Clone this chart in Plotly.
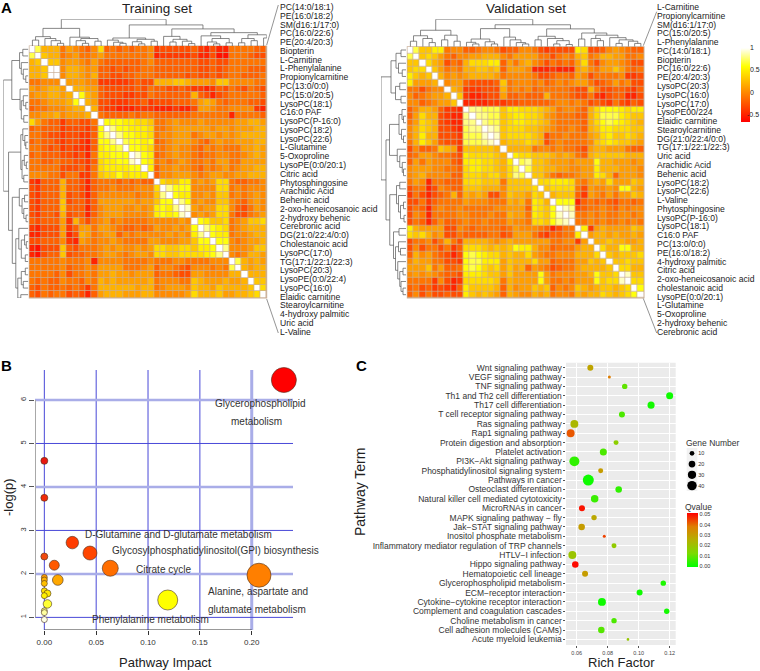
import numpy as np
import plotly.graph_objects as go

W, H = 760, 671
FONT = "Liberation Sans"

# ---------- Panel A data: correlation levels, upper triangle from the diagonal ----------
# A=-0.6 B=-0.5 C=-0.4 D=-0.3 E=-0.2 F=-0.1 0..9=tenths W=1.0
TRAIN_ROWS = [
 "W7222F10FE04EFEFEFF0CDDDDDECBDBBFFFFEE",
 "W322F01FF01FFFFFFF0BCCCCCDBBDAAFFFEDD",
 "W330110F1FEEEEEEF0EEEEEEEDDEDDFFFFFF",
 "WW022101EEDEDEEFFEEEEEEEDDEDEFFFEEE",
 "W022102EEDDEEFFFEEEEEDEDDEDEFFEEEF",
 "W11100CCCCCDEDD222332111033" + "0000FF",
 "W2211EDDDDDEDFEEDDEDCCBCEDFEDFED",
 "W621EDDDCCDDFEEEEEE2EDBDEFFFFFE",
 "W21DDCCCDDECDDDEEEF121FEFFFEED",
 "W2DCCBBBCCCBBBCBBD110FF0000CB",
 "WFEEEEFEFFEEEEEEFFFFFFBFFFFE",
 "W66655443FF0100010000011221",
 "W8665554FF0111111011011122",
 "W866554F00111F01101012222",
 "W76656EF01110FE010011122",
 "W6654FF0100FE0F0FFF1121",
 "W965EF0100FEFF00FF0121",
 "W65F0F010FF0F11FF1111",
 "W5E00100FE0F01F01122",
 "WE001110F0110011222",
 "W43355010144FEEFF0",
 "W8666000044F0F000",
 "W655001033F0F010",
 "W86010033" + "0FE010",
 "W91011440EDF10",
 "W010144FDDF01",
 "W65334F01334",
 "W8654F01222",
 "W655F00122",
 "W660F0112",
 "W8000133",
 "W0F0221",
 "W72121",
 "W2122",
 "W222",
 "W33",
 "W4",
 "W",
]
VALID_ROWS = [
 "W73355F00EEF00FDEE00FDCDDDD54DDE010FEE",
 "W3431FE0011222" + "0F111" + "1FFDF0F23F0221" + "1FF0",
 "W421DFE244455E1F120FDFEFE14FD0110FDDF"[:36],
 "W31F0F223323E1110BBBCBBB120F1131FEF",
 "W2010122221F0000FDDEFFE10DFFFF0CCD",
 "W011EDDDDE3F000F0EF0F011FDEF1F0DD",
 "W21CCCDDD2F0F0EFFFFFEDD2FDDEEDCE",
 "W3CBBCDD1EEFEEE2FFFEDDFCBDEEBBD",
 "WBBBBCCCDDEEEEEF00F0FDEDCFDCED",
 "W88777355444321F00FE246665455"[:29],
 "W8877345544310FFFEE247775433",
 "W87734554432" + "0FFFFE246765432",
 "W9834443" + "3210FF0FE235544433",
 "W93444432DFF0FFF124533432",
 "W2333432DF0FFFF034543321",
 "W2222F00F0FFED122111FEE",
 "W5443332121FE233333222",
 "W78332111011" + "162211101",
 "W73322110" + "01152221110",
 "W331FEFF01154" + "2E1110",
 "W4455540F121411132",
 "W34444FD100106621",
 "W2333EC10F1F1132",
 "W666BEFEFEDFFEF",
 "W98DEFF0FE0F00",
 "W9FF0F0FF00F0",
 "WFF0F0FF0F0F",
 "W5C12111132",
 "W122121121",
 "W22322112",
 "W4226622",
 "W323334",
 "W33433",
 "W4422",
 "W933",
 "W44",
 "W6",
 "W",
]
LEVELS = {"A": -.6, "B": -.5, "C": -.4, "D": -.3, "E": -.2, "F": -.1, "W": 1.0}
SCALE_TICKS = [1, .5, 0, -.5]

TRAIN_LABELS = ["PC(14:0/18:1)", "PE(16:0/18:2)", "SM(d16:1/17:0)", "PC(16:0/22:6)", "PE(20:4/20:3)",
 "Biopterin", "L-Carnitine", "L-Phenylalanine", "Propionylcarnitine", "PC(13:0/0:0)", "PC(15:0/20:5)",
 "LysoPC(18:1)", "C16:0 PAF", "LysoPC(P-16:0)", "LysoPC(18:2)", "LysoPC(22:6)", "L-Glutamine", "5-Oxoproline",
 "LysoPE(0:0/20:1)", "Citric acid", "Phytosphingosine", "Arachidic Acid", "Behenic acid",
 "2-oxo-heneicosanoic acid", "2-hydroxy behenic", "Cerebronic acid", "DG(21:0/22:4/0:0)", "Cholestanoic acid",
 "LysoPC(17:0)", "TG(17:1/22:1/22:3)", "LysoPC(20:3)", "LysoPE(0:0/22:4)", "LysoPC(16:0)", "Elaidic carnitine",
 "Stearoylcarnitine", "4-hydroxy palmitic", "Uric acid", "L-Valine"]
VALID_LABELS = ["L-Carnitine", "Propionylcarnitine", "SM(d16:1/17:0)", "PC(15:0/20:5)", "L-Phenylalanine",
 "PC(14:0/18:1)", "Biopterin", "PC(16:0/22:6)", "PE(20:4/20:3)", "LysoPC(20:3)", "LysoPC(16:0)", "LysoPC(17:0)",
 "LysoPE00/224", "Elaidic carnitine", "Stearoylcarnitine", "DG(21:0/22:4/0:0)", "TG(17:1/22:1/22:3)", "Uric acid",
 "Arachidic Acid", "Behenic acid", "LysoPC(18:2)", "LysoPC(22:6)", "L-Valine", "Phytosphingosine", "LysoPC(P-16:0)",
 "LysoPC(18:1)", "C16:0 PAF", "PC(13:0/0:0)", "PE(16:0/18:2)", "4-hydroxy palmitic", "Citric acid",
 "2-oxo-heneicosanoic acid", "cholestanoic acid", "LysoPE(0:0/20:1)", "L-Glutamine", "5-Oxoproline",
 "2-hydroxy behenic", "Cerebronic acid"]

# dendrogram merges: [height, left, right]; 0 is a leaf
TRAIN_TREE = [1.0,
 [.66,
  [.35, [.22, 0, 0], [.28, 0, [.2, 0, [.1, 0, 0]]]],
  [.33, 0, [.28, [.2, 0, [.1, 0, 0]], [.18, 0, 0]]]],
 [.79,
  [.3, [.22, 0, [.14, 0, [.1, 0, 0]]], [.25, [.16, 0, [.08, 0, 0]], [.18, 0, 0]]],
  [.64,
   [.36, 0, [.25, [.15, 0, 0], [.18, 0, [.09, 0, 0]]]],
   [.5,
    [.38, 0, [.28, [.15, 0, [.08, 0, 0]], [.12, 0, 0]]],
    [.42, [.28, [.12, 0, 0], [.2, 0, 0]], [.3, 0, 0]]]]]]
VALID_TREE = [1.0,
 [.6, [.4, [.2, 0, 0], [.3, 0, [.15, 0, 0]]], [.42, [.25, 0, 0], [.2, 0, 0]]],
 [.8,
  [.66,
   [.28, [.16, 0, [.1, 0, 0]], [.18, 0, [.1, 0, 0]]],
   [.35, 0, [.25, 0, [.15, 0, [.1, 0, 0]]]]],
  [.65,
   [.38, [.25, 0, 0], [.3, 0, [.22, [.1, 0, 0], [.08, 0, 0]]]],
   [.5,
    [.28, 0, 0],
    [.42, [.3, 0, [.22, 0, 0]], [.33, 0, [.25, [.12, 0, 0], [.2, 0, [.12, 0, 0]]]]]]]]]

# ---------- Panel B data ----------
IMPACT = [.231, 0, 0, 0, .027, .044, .0096, .0636, .207, .013, 0, 0, 0, 0, .003, 0, .003, .119, 0, 0, 0]
LOGP = [6.46, 4.6, 3.75, 2.4, 2.72, 2.48, 2.2, 2.13, 1.97, 1.86, 1.92, 1.86, 1.78, 1.61, 1.55, 1.5, 1.31, 1.4, 1.15, 1.11, .95]
NODE_SIZE = [25, 7, 7, 7, 12.5, 14, 10, 16, 24, 10.7, 6, 6, 6, 6, 7, 6, 8.5, 20, 6, 6, 6]
NODE_COLOR = ["#FF0000", "#E8180F", "#F02A0A", "#F04A10", "#FF3C00", "#FF4500", "#FF5A00", "#FF6E00", "#FF7F00",
              "#FFA800", "#FF9F00", "#FFB000", "#FFC000", "#FFE000", "#FFE800", "#FFF000", "#FFFF33", "#FFFF00",
              "#FFFF80", "#FFFFA0", "#FFFFE8"]
B_X_TICKS = [0, .05, .10, .15, .20]
B_Y_TICKS = [1, 2, 3, 4, 5, 6]
B_THICK_H = [2, 4, 6]
B_THICK_V = [.20]
B_NOTES = [("Glycerophospholipid", 260, 403.7), ("metabolism", 256.7, 421),
           ("D-Glutamine and D-glutamate metabolism", 178, 534),
           ("Glycosylphosphatidylinositol(GPI) biosynthesis", 215, 550.7),
           ("Citrate cycle", 163.3, 569), ("Alanine, aspartate and", 257.7, 591.7),
           ("glutamate metabolism", 256.7, 609), ("Phenylalanine metabolism", 150.3, 619.7)]

# ---------- Panel C data ----------
TERMS = ["Wnt signaling pathway", "VEGF signaling pathway", "TNF signaling pathway", "Th1 and Th2 cell differentiation",
 "Th17 cell differentiation", "T cell receptor signaling pathway", "Ras signaling pathway", "Rap1 signaling pathway",
 "Protein digestion and absorption", "Platelet activation", "PI3K\u2212Akt signaling pathway",
 "Phosphatidylinositol signaling system", "Pathways in cancer", "Osteoclast differentiation",
 "Natural killer cell mediated cytotoxicity", "MicroRNAs in cancer", "MAPK signaling pathway \u2212 fly",
 "Jak\u2212STAT signaling pathway", "Inositol phosphate metabolism",
 "Inflammatory mediator regulation of TRP channels", "HTLV\u2212I infection", "Hippo signaling pathway",
 "Hematopoietic cell lineage", "Glycerophospholipid metabolism", "ECM\u2212receptor interaction",
 "Cytokine\u2212cytokine receptor interaction", "Complement and coagulation cascades",
 "Choline metabolism in cancer", "Cell adhesion molecules (CAMs)", "Acute myeloid leukemia"]
RICH = [.0688, .0811, .091, .12, .108, .0892, .0585, .0561, .0854, .0772, .0585, .0755, .0675, .0871, .0716, .0634,
        .0712, .0632, .0778, .0841, .0572, .0591, .0654, .1159, .1006, .0763, .1181, .0841, .0759, .0931]
GENES = [16, 4, 13, 22, 22, 16, 28, 28, 11, 22, 44, 11, 54, 19, 25, 16, 13, 19, 4, 11, 28, 19, 16, 13, 16, 28, 13, 13, 19, 3]
QVALUE = [.028, .038, .009, .0005, .001, .007, .023, .042, .016, .007, .004, .03, .0005, .004, .005, .049, .027, .03,
          .044, .017, .019, .05, .03, .002, .0005, .0005, .001, .007, .008, .018]
GENE_KEYS = [10, 20, 30, 40]


def px_x(a, b):
    return [a / W, b / W]


def px_y(top, bottom):
    return [1 - bottom / H, 1 - top / H]


def decode(rows):
    n = len(rows)
    z = np.zeros((n, n))
    for i, row in enumerate(rows):
        vals = [LEVELS[c] if c in LEVELS else int(c) / 10 for c in row]
        vals = (vals + [0.0] * n)[:n - i]
        z[i, i:] = vals
        z[i:, i] = vals
    return z


def tree_lines(tree):
    """Positions of a dendrogram's links: (leaf coordinate, height) pairs."""
    pos, hgt = [], []
    counter = [0]

    def walk(node):
        if node == 0:
            counter[0] += 1
            return counter[0] - 1, 0.0
        xa, ha = walk(node[1])
        xb, hb = walk(node[2])
        pos.extend([xa, xa, xb, xb, None])
        hgt.extend([ha, node[0], node[0], hb, None])
        return (xa + xb) / 2, node[0]

    walk(tree)
    return pos, hgt


fig = go.Figure()
layout = dict(width=W, height=H, margin=dict(l=0, r=0, t=0, b=0, autoexpand=False), autosize=False, showlegend=False,
              paper_bgcolor="white", plot_bgcolor="rgba(0,0,0,0)", font=dict(family=FONT, color="#222"))
shapes, notes = [], []
axis_n = [0]


def axes(xdom, ydom, xkw=None, ykw=None):
    axis_n[0] += 1
    n = axis_n[0]
    base = dict(showgrid=False, zeroline=False, showline=False, showticklabels=False, ticks="")
    layout[f"xaxis{n}"] = {**base, "domain": xdom, "anchor": f"y{n}", **(xkw or {})}
    layout[f"yaxis{n}"] = {**base, "domain": ydom, "anchor": f"x{n}", **(ykw or {})}
    return f"x{n}", f"y{n}"


def note(text, x, y, size, anchor="center", **kw):
    notes.append(dict(text=text, x=x / W, y=1 - y / H, xref="paper", yref="paper", showarrow=False,
                      xanchor=anchor, yanchor="middle", font=dict(size=size, family=FONT, color=kw.pop("color", "#222")),
                      **kw))


HEAT_SCALE = [[0, "#FF0000"], [.75, "#FFFF00"], [1, "#FFFFFF"]]
ZMIN, ZMAX = -.68, 1.0


def heat_panel(rows, labels, tree, x0, x1, y0, y1, dl0, dl1, dt0, lab_x, fan, colorbar):
    n = len(rows)
    xa, ya = axes(px_x(x0, x1), px_y(y0, y1), dict(range=[-.5, n - .5]), dict(range=[n - .5, -.5]))
    shapes.append(dict(type="rect", xref="paper", yref="paper", x0=(x0 - .5) / W, x1=(x1 + .5) / W, y0=1 - (y1 + .5) / H,
                       y1=1 - (y0 - .5) / H, fillcolor="#C9AE96", line_width=0, layer="below"))
    tr = dict(z=decode(rows), xaxis=xa, yaxis=ya, xgap=.7, ygap=.7, zmin=ZMIN, zmax=ZMAX, colorscale=HEAT_SCALE,
              hoverinfo="skip")
    if colorbar:
        tr.update(showscale=True, colorbar=dict(x=740.7 / W, xanchor="left", xpad=0, ypad=0, y=1 - 85 / H, yanchor="middle",
                                                thickness=9.3, thicknessmode="pixels", len=74, lenmode="pixels",
                                                outlinewidth=0, ticks="", showticklabels=False))
        for v in SCALE_TICKS:
            note(f"{v:g}", 745 if v < 0 else 748, 92 - v * 44.5, 7, anchor="left")
    else:
        tr.update(showscale=False)
    fig.add_trace(go.Heatmap(**tr))
    pos, hgt = tree_lines(tree)
    line = dict(color="#555555", width=.7)
    xt, yt = axes(px_x(x0, x1), px_y(dt0, y0), dict(range=[-.5, n - .5]), dict(range=[0, 1]))
    fig.add_trace(go.Scatter(x=pos, y=hgt, mode="lines", line=line, xaxis=xt, yaxis=yt, hoverinfo="skip"))
    xl, yl = axes(px_x(dl0, dl1), px_y(y0, y1), dict(range=[1, 0]), dict(range=[n - .5, -.5]))
    fig.add_trace(go.Scatter(x=hgt, y=pos, mode="lines", line=line, xaxis=xl, yaxis=yl, hoverinfo="skip"))
    for i, lab in enumerate(labels):
        note(lab, lab_x, 7 + i * 8.776, 8.6, anchor="left")
    for (a, b, c, d) in fan:
        shapes.append(dict(type="line", xref="paper", yref="paper", x0=a / W, y0=1 - b / H, x1=c / W, y1=1 - d / H,
                           line=dict(color="#666666", width=.7)))


heat_panel(TRAIN_ROWS, TRAIN_LABELS, TRAIN_TREE, 29.3, 266.7, 46, 298, 3.3, 28.3, 19.3, 278,
           [(266.7, 45, 278.3, 5), (266.7, 299, 278.3, 333)], False)
heat_panel(VALID_ROWS, VALID_LABELS, VALID_TREE, 407.3, 644, 46.7, 298, 381, 406, 19.3, 655,
           [(643.3, 45.7, 656.7, 11.7), (643.3, 298.5, 656.7, 333)], True)
note("Training set", 157, 8.5, 13.5)
note("Validation set", 526, 8.5, 13.5)
note("<b>A</b>", 7, 8, 15, color="#000")
note("<b>B</b>", 7, 365, 15, color="#000")
note("<b>C</b>", 361, 365, 15, color="#000")

# ---------- Panel B ----------
B_XR = [-.009, .2398]
B_YR = [.71, 6.69]
xb, yb = axes(px_x(35, 293), px_y(370, 630),
              dict(range=B_XR, tickmode="array", tickvals=B_X_TICKS, ticktext=[f"{v:.2f}" for v in B_X_TICKS],
                   showticklabels=True, ticks="outside", ticklen=4, tickcolor="#333", tickwidth=.7,
                   tickfont=dict(size=8, family=FONT, color="#333")),
              dict(range=B_YR, tickmode="array", tickvals=B_Y_TICKS, showticklabels=True, ticks="outside", ticklen=5,
                   tickcolor="#555", tickwidth=.7, tickangle=-90, tickfont=dict(size=7.5, family=FONT, color="#333")))
for v in B_X_TICKS:
    thick = v in B_THICK_V
    fig.add_trace(go.Scatter(x=[v, v], y=B_YR, mode="lines", xaxis=xb, yaxis=yb, hoverinfo="skip",
                             line=dict(color="#A9ADE8" if thick else "#4848D8", width=3 if thick else 1)))
for v in B_Y_TICKS:
    thick = v in B_THICK_H
    fig.add_trace(go.Scatter(x=B_XR, y=[v, v], mode="lines", xaxis=xb, yaxis=yb, hoverinfo="skip",
                             line=dict(color="#A9ADE8" if thick else "#4848D8", width=2.5 if thick else 1)))
fig.add_trace(go.Scatter(x=[B_XR[0], B_XR[0]], y=[B_Y_TICKS[0], B_Y_TICKS[-1]], mode="lines", xaxis=xb, yaxis=yb,
                         hoverinfo="skip", line=dict(color="#A8A8A8", width=2)))
fig.add_trace(go.Scatter(x=[B_X_TICKS[0], B_X_TICKS[-1]], y=[B_YR[0], B_YR[0]], mode="lines", xaxis=xb, yaxis=yb,
                         hoverinfo="skip", line=dict(color="#333333", width=1), cliponaxis=False))
fig.add_trace(go.Scatter(x=IMPACT, y=LOGP, mode="markers", xaxis=xb, yaxis=yb, hoverinfo="skip", cliponaxis=False,
                         marker=dict(size=NODE_SIZE, color=NODE_COLOR, opacity=1, line=dict(color="#4A3020", width=.6))))
for text, x, y in B_NOTES:
    note(text, x, y, 10, color="#333")
note("Pathway Impact", 165, 662, 13)
note("-log(p)", 8, 497, 13, textangle=-90)

# ---------- Panel C ----------
shapes.append(dict(type="rect", xref="paper", yref="paper", x0=566 / W, x1=675.7 / W, y0=1 - 645 / H, y1=1 - 362.7 / H,
                   fillcolor="#EBEBEB", line_width=0, layer="below"))
xc, yc = axes(px_x(566, 675.7), px_y(362.7, 645),
              dict(range=[.0531, .1239], tickmode="array", tickvals=[.06, .08, .10, .12],
                   ticktext=["0.06", "0.08", "0.10", "0.12"], showticklabels=True, ticks="outside", ticklen=2,
                   tickcolor="#555", tickwidth=.6, showgrid=True, gridcolor="white", gridwidth=.7,
                   tickfont=dict(size=5.5, family=FONT, color="#444")),
              dict(type="category", categoryorder="array", categoryarray=TERMS, range=[29.6, -.53], showticklabels=True,
                   tickmode="array", tickvals=TERMS, ticktext=TERMS, ticklabelstandoff=-1,
                   ticks="outside", ticklen=2.5, tickcolor="#555", tickwidth=.6, showgrid=True, gridcolor="white",
                   gridwidth=.7, tickfont=dict(size=8.5, family=FONT, color="#333")))
Q_SCALE = [[0, "#00FF00"], [.25, "#7BDB00"], [.5, "#B4B000"], [.75, "#DF7D00"], [1, "#FF0000"]]
fig.add_trace(go.Scatter(x=RICH, y=TERMS, mode="markers", xaxis=xc, yaxis=yc, hoverinfo="skip",
                         marker=dict(size=[1.5 * g ** .5 for g in GENES], color=QVALUE, colorscale=Q_SCALE, opacity=1,
                                     cmin=-.001, cmax=.051, line_width=0, showscale=True,
                                     colorbar=dict(x=686.7 / W, xanchor="left", xpad=0, ypad=0, y=1 - 540.3 / H,
                                                   yanchor="middle", thickness=10.6, thicknessmode="pixels", len=54,
                                                   lenmode="pixels", outlinewidth=0, ticks="",
                                                   tickvals=[0, .01, .02, .03, .04, .05],
                                                   ticktext=["0.00", "0.01", "0.02", "0.03", "0.04", "0.05"],
                                                   tickfont=dict(size=5.5, family=FONT, color="#333")))))
note("Pathway Term", 359.3, 491.7, 14, textangle=-90)
note("Rich Factor", 621.7, 662, 13)
note("Gene Number", 712.7, 442.7, 8.5, color="#333")
note("Qvalue", 698.7, 506.5, 8.5, color="#333")
shapes.append(dict(type="rect", xref="paper", yref="paper", x0=686.7 / W, x1=697.3 / W, y0=1 - 491 / H, y1=1 - 448 / H,
                   fillcolor="#F2F2F2", line_width=0, layer="below"))
xk, yk = axes(px_x(686.7, 697.3), px_y(448, 491), dict(range=[0, 1]),
              dict(range=[45, 5], side="right", tickmode="array", tickvals=GENE_KEYS, showticklabels=True,
                   tickfont=dict(size=5.5, family=FONT, color="#333")))
fig.add_trace(go.Scatter(x=[.5] * len(GENE_KEYS), y=GENE_KEYS, mode="markers", xaxis=xk, yaxis=yk, hoverinfo="skip",
                         marker=dict(size=[1.5 * g ** .5 for g in GENE_KEYS], color="black", opacity=1, line_width=0)))

layout["shapes"] = shapes
layout["annotations"] = notes
fig.update_layout(**layout)
fig.write_html("out.html", config={"displayModeBar": False},
               post_script="document.body.style.margin='0';document.documentElement.style.overflow='hidden';")
